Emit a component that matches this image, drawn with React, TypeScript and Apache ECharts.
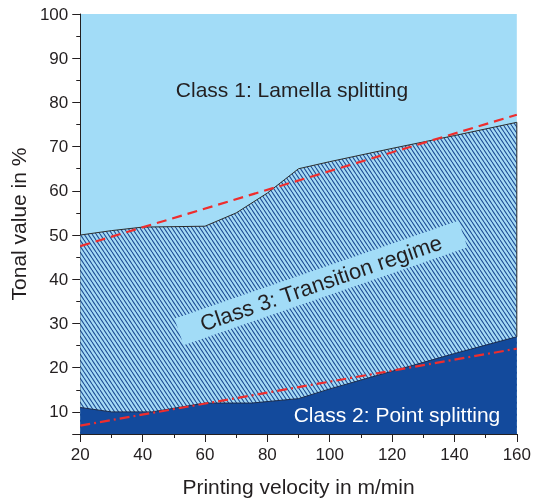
import React, { useEffect, useRef } from 'react';
import * as echarts from 'echarts';

// Printing velocity (m/min) and boundary tonal values (%)
const upperVelocity = [20, 30, 40, 60, 70, 80, 90, 100, 120, 140, 160];
const upperBoundary = [50, 51, 51.8, 52, 55, 59.5, 65, 66.6, 69.6, 72.5, 75.5];
const lowerVelocity = [20, 30, 43, 60, 75, 90, 100, 120, 140, 160];
const lowerBoundary = [11, 10, 10, 12, 12, 13, 15.2, 19.2, 23.2, 27];
const fitVelocity = [20, 160];
const upperFit = [47.5, 77.2];
const lowerFit = [6.9, 24.3];
const edgeValues = [27, 75.5];

const classLabels = ['Class 1: Lamella splitting', 'Class 2: Point splitting', 'Class 3: Transition regime'];
const xName = 'Printing velocity in m/min';
const yName = 'Tonal value in %';

const FONT = 'Liberation Sans, Arial, Helvetica, sans-serif';
const TXT = '#231f20';
const LIGHT = '#a2dcf7';
const DARK = '#134a9c';

function makeHatch() {
  const w = 4, h = 6;
  const c = document.createElement('canvas');
  c.width = w; c.height = h;
  const ctx = c.getContext('2d')!;
  ctx.fillStyle = '#a6dbf5';
  ctx.fillRect(0, 0, w, h);
  ctx.strokeStyle = '#1d4c95';
  ctx.lineWidth = 1.1;
  for (let k = -1; k <= 1; k++) {
    ctx.beginPath();
    ctx.moveTo(k * w, 0);
    ctx.lineTo(k * w + w, h);
    ctx.stroke();
  }
  return { image: c, repeat: 'repeat', imageWidth: w, imageHeight: h } as any;
}

const zip = (xs: number[], ys: number[]) => xs.map((x, i) => [x, ys[i]]);

export default function App() {
  const ref = useRef<HTMLDivElement>(null);
  useEffect(() => {
    const chart = echarts.init(ref.current!, null, { renderer: 'svg' });
    const hatch = makeHatch();
    const rot = (19 * Math.PI) / 180;
    chart.setOption({
      animation: false,
      grid: { left: 78, right: 14, top: 14, bottom: 68, show: true, backgroundColor: LIGHT, borderWidth: 0 },
      xAxis: {
        type: 'value', min: 20, max: 160, interval: 20,
        name: xName, nameLocation: 'middle', nameGap: 42,
        nameTextStyle: { fontSize: 21, color: TXT, fontFamily: FONT },
        axisLine: { show: true, lineStyle: { color: TXT, width: 1 } },
        axisTick: { show: true, length: 8, lineStyle: { color: TXT } },
        minorTick: { show: true, splitNumber: 2, length: 4, lineStyle: { color: TXT } },
        axisLabel: { fontSize: 17, color: TXT, fontFamily: FONT, margin: 12 },
        splitLine: { show: false },
      },
      yAxis: [
        {
          type: 'value', min: 5, max: 100, splitNumber: 10,
          name: yName, nameLocation: 'middle', nameGap: 49,
          nameTextStyle: { fontSize: 21, color: TXT, fontFamily: FONT },
          axisLine: { show: true, lineStyle: { color: TXT, width: 1 } },
          axisTick: { show: true, length: 8, lineStyle: { color: TXT } },
          axisLabel: {
            fontSize: 17, color: TXT, fontFamily: FONT, margin: 12,
            formatter: (v: number) => (v % 10 === 0 ? String(v) : ''),
          },
          splitLine: { show: false },
        },
        {
          type: 'value', min: 5, max: 100, interval: 5, position: 'left', offset: 0,
          axisLine: { show: false },
          axisTick: { show: true, length: 4, lineStyle: { color: TXT } },
          axisLabel: { show: false },
          splitLine: { show: false },
        },
      ],
      series: [
        {
          type: 'line', data: zip(upperVelocity, upperBoundary), symbol: 'none',
          lineStyle: { color: '#2b2b2b', width: 1 },
          areaStyle: { color: hatch, origin: 'start', opacity: 1 },
          z: 2,
        },
        {
          type: 'line', data: zip(lowerVelocity, lowerBoundary), symbol: 'none',
          lineStyle: { color: '#1c2c4c', width: 1 },
          areaStyle: { color: DARK, origin: 'start', opacity: 1 },
          z: 3,
        },
        {
          type: 'line', data: zip([160, 160], edgeValues), symbol: 'none',
          lineStyle: { color: '#2b2b2b', width: 1 }, z: 4,
        },
        {
          type: 'line', data: zip(fitVelocity, upperFit), symbol: 'none',
          lineStyle: { color: '#ee2d2d', width: 2.2, type: [10, 6] }, z: 5,
        },
        {
          type: 'line', data: zip(fitVelocity, lowerFit), symbol: 'none',
          lineStyle: { color: '#ee2d2d', width: 2.2, type: [10, 4, 2, 4] }, z: 5,
        },
      ],
      graphic: [
        {
          type: 'text', x: 292, y: 89, z: 10,
          style: { text: classLabels[0], fontSize: 21, fill: TXT, fontFamily: FONT, align: 'center', verticalAlign: 'middle' },
        },
        {
          type: 'text', x: 397, y: 414, z: 10,
          style: { text: classLabels[1], fontSize: 21, fill: '#ffffff', fontFamily: FONT, align: 'center', verticalAlign: 'middle' },
        },
        {
          type: 'rect', x: 321, y: 283, rotation: rot, z: 10,
          shape: { x: -150, y: -14, width: 300, height: 28 },
          style: { fill: LIGHT },
        },
        {
          type: 'text', x: 321, y: 283, rotation: rot, z: 11,
          style: { text: classLabels[2], fontSize: 22, fill: TXT, fontFamily: FONT, align: 'center', verticalAlign: 'middle' },
        },
      ],
    });
    return () => chart.dispose();
  }, []);
  return <div ref={ref} style={{ position: 'fixed', left: 0, top: 0, width: 534, height: 502 }} />;
}
